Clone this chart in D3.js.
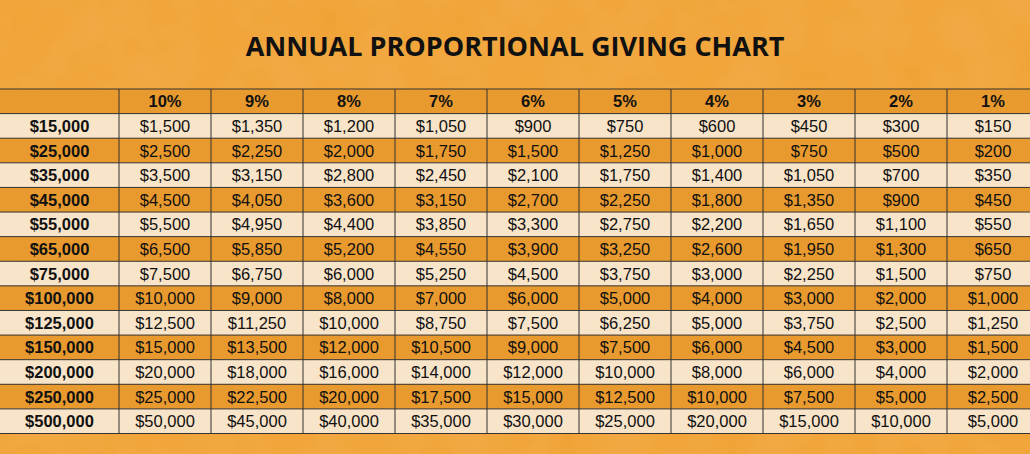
<!DOCTYPE html>
<html><head><meta charset="utf-8">
<script src="https://cdn.jsdelivr.net/npm/d3@7"></script>
<style>body{margin:0;background:#f0a131;}svg{display:block}</style>
</head><body>
<svg id="c" width="1030" height="454"></svg>
<script>
const title = "ANNUAL PROPORTIONAL GIVING CHART";
const percents = ["10%","9%","8%","7%","6%","5%","4%","3%","2%","1%"];
const incomes = ["$15,000","$25,000","$35,000","$45,000","$55,000","$65,000","$75,000","$100,000","$125,000","$150,000","$200,000","$250,000","$500,000"];
const r15 = ["$1,500","$1,350","$1,200","$1,050","$900","$750","$600","$450","$300","$150"];
const r25 = ["$2,500","$2,250","$2,000","$1,750","$1,500","$1,250","$1,000","$750","$500","$200"];
const r35 = ["$3,500","$3,150","$2,800","$2,450","$2,100","$1,750","$1,400","$1,050","$700","$350"];
const r45 = ["$4,500","$4,050","$3,600","$3,150","$2,700","$2,250","$1,800","$1,350","$900","$450"];
const r55 = ["$5,500","$4,950","$4,400","$3,850","$3,300","$2,750","$2,200","$1,650","$1,100","$550"];
const r65 = ["$6,500","$5,850","$5,200","$4,550","$3,900","$3,250","$2,600","$1,950","$1,300","$650"];
const r75 = ["$7,500","$6,750","$6,000","$5,250","$4,500","$3,750","$3,000","$2,250","$1,500","$750"];
const r100 = ["$10,000","$9,000","$8,000","$7,000","$6,000","$5,000","$4,000","$3,000","$2,000","$1,000"];
const r125 = ["$12,500","$11,250","$10,000","$8,750","$7,500","$6,250","$5,000","$3,750","$2,500","$1,250"];
const r150 = ["$15,000","$13,500","$12,000","$10,500","$9,000","$7,500","$6,000","$4,500","$3,000","$1,500"];
const r200 = ["$20,000","$18,000","$16,000","$14,000","$12,000","$10,000","$8,000","$6,000","$4,000","$2,000"];
const r250 = ["$25,000","$22,500","$20,000","$17,500","$15,000","$12,500","$10,000","$7,500","$5,000","$2,500"];
const r500 = ["$50,000","$45,000","$40,000","$35,000","$30,000","$25,000","$20,000","$15,000","$10,000","$5,000"];
const rows = [r15,r25,r35,r45,r55,r65,r75,r100,r125,r150,r200,r250,r500];

const svg = d3.select("#c");
const defs = svg.append("defs");
const f = defs.append("filter").attr("id","tex");
f.append("feTurbulence").attr("type","fractalNoise").attr("baseFrequency",0.02).attr("numOctaves",3).attr("seed",4);
f.append("feColorMatrix").attr("values","0 0 0 0 0.92  0 0 0 0 0.45  0 0 0 0 0.12  0 0 0 0.5 0");
svg.append("rect").attr("width",1030).attr("height",454).attr("fill","#f0a232");
svg.append("rect").attr("width",1030).attr("height",454).attr("filter","url(#tex)");

svg.append("text").attr("x",515).attr("y",56).attr("text-anchor","middle")
 .attr("font-family","Open Sans").attr("font-weight",700).attr("font-size",27).attr("fill","#111").text(title);

const x = d3.scaleLinear().domain([0,10]).range([119,1039]);
const y = d3.scaleLinear().domain([0,14]).range([89,433.5]);
const rowH = y(1)-y(0);
const g = svg.append("g");
const allRows = [["",...percents]].concat(rows.map((r,i)=>[incomes[i],...r]));
allRows.forEach((r,ri)=>{
  const fill = (ri%2===0) ? "#e99a2e" : "#f8e4c9";
  g.append("rect").attr("x",0).attr("y",y(ri)).attr("width",1030).attr("height",rowH).attr("fill",fill);
  r.forEach((t,ci)=>{
    const x0 = ci===0?0:x(ci-1), x1 = ci===0?119:x(ci);
    g.append("text").attr("x",(x0+x1)/2).attr("y",y(ri)+rowH/2+6).attr("text-anchor","middle")
     .attr("font-family","Liberation Sans, Arial").attr("font-size",16.5)
     .attr("font-weight",(ci===0||ri===0)?700:400).attr("fill","#111").text(t);
  });
});
d3.range(0,15).forEach(i=>g.append("line").attr("x1",0).attr("x2",1030).attr("y1",y(i)).attr("y2",y(i)).attr("stroke","#333").attr("stroke-width",1));
[119].concat(d3.range(1,10).map(i=>x(i))).forEach(v=>g.append("line").attr("x1",v).attr("x2",v).attr("y1",y(0)).attr("y2",y(14)).attr("stroke","#333").attr("stroke-width",1));
</script></body></html>
